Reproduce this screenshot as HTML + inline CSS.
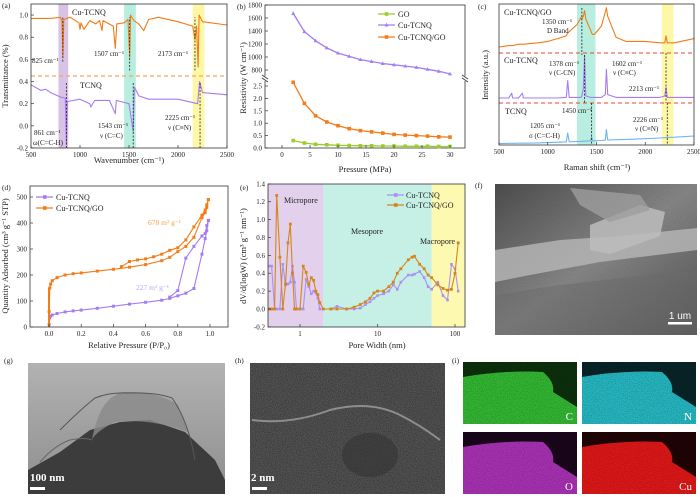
<!DOCTYPE html>
<html><head><meta charset="utf-8"><style>
body{margin:0;background:#fff}
svg{display:block;font-family:"Liberation Serif",serif}
</style></head><body>
<svg id="fig" width="700" height="497" viewBox="0 0 700 497" xmlns="http://www.w3.org/2000/svg">
<defs>
<filter id="noise" x="0" y="0" width="100%" height="100%"><feTurbulence type="fractalNoise" baseFrequency="0.9" numOctaves="2" seed="3"/><feColorMatrix type="saturate" values="0"/><feComponentTransfer><feFuncA type="linear" slope="0.5"/></feComponentTransfer><feBlend in2="SourceGraphic" mode="multiply"/></filter>
<filter id="noise2" x="0" y="0" width="100%" height="100%"><feTurbulence type="fractalNoise" baseFrequency="1.2" numOctaves="1" seed="7"/><feColorMatrix type="matrix" values="0 0 0 0 0  0 0 0 0 0  0 0 0 0 0  0 0 0 1.3 -0.3"/><feComposite in2="SourceGraphic" operator="in"/><feBlend in2="SourceGraphic" mode="normal"/></filter>
<filter id="speck" x="0" y="0" width="100%" height="100%"><feTurbulence type="fractalNoise" baseFrequency="1.5" numOctaves="1" seed="11"/><feColorMatrix type="matrix" values="0 0 0 0 0  0 0 0 0 0  0 0 0 0 0  0 0 0 2 -0.9"/></filter>
<linearGradient id="gSEM" x1="0" y1="0" x2="1" y2="1"><stop offset="0" stop-color="#505050"/><stop offset="0.5" stop-color="#8a8a8a"/><stop offset="1" stop-color="#555"/></linearGradient>
<linearGradient id="gTEMbg" x1="0" y1="0" x2="0" y2="1"><stop offset="0" stop-color="#b2b2b2"/><stop offset="1" stop-color="#8e8e8e"/></linearGradient>
</defs>
<g id="root"></g>
</svg>
<script>
const NS="http://www.w3.org/2000/svg";
const root=document.getElementById('root');
function mk(tag,attrs,parent,txt){const e=document.createElementNS(NS,tag);for(const k in attrs)e.setAttribute(k,attrs[k]);if(txt!==undefined)e.textContent=txt;(parent||root).appendChild(e);return e;}

// ---------- DATA ----------
const aCuW=[500,700,800,815,825,835,900,990,1000,1010,1040,1100,1160,1200,1225,1235,1340,1360,1375,1450,1490,1507,1515,1550,1600,1650,1700,1800,2000,2150,2173,2190,2205,2215,2250,2500];
const aCuT=[.97,.97,.98,.95,.62,.96,.98,.93,.87,.93,.87,.95,.92,.95,.86,.95,.9,.7,.92,.93,.96,.62,1.0,.95,.92,.86,.96,.98,.94,.9,.78,.9,.53,1.0,.94,.91];
const aTW=[500,600,650,700,800,850,861,870,1000,1100,1110,1150,1300,1360,1370,1500,1543,1555,1600,1700,2000,2200,2220,2250,2500];
const aTT=[.37,.32,.33,.3,.26,.25,-.17,.22,.24,.2,.17,.23,.23,.11,.23,.2,-.05,.35,.27,.24,.24,.2,.4,.3,.28];
const aYTicks=[-0.2,0.0,0.2,0.4,0.6,0.8,1.0];
const aXTicks=[500,1000,1500,2000,2500];
const bP=[2,4,6,8,10,12,14,16,18,20,22,24,26,28,30];
const bGO=[.3,.2,.15,.13,.11,.1,.09,.09,.08,.08,.07,.07,.07,.06,.06];
const bCu=[1670,1390,1250,1140,1060,1010,960,930,900,880,860,840,810,780,740];
const bCuGO=[2.65,1.8,1.3,1.05,.9,.78,.7,.65,.6,.55,.52,.5,.48,.45,.44];
const bXTicks=[0,5,10,15,20,25,30];
const bUpTicks=[800,1000,1200,1400,1600,1800];
const bLoTicks=[0.0,0.5,1.0,1.5,2.0,2.5];
const cW=[500,600,630,640,700,740,750,900,1000,1100,1190,1205,1220,1300,1340,1350,1365,1378,1390,1440,1450,1460,1480,1550,1590,1602,1615,1700,1800,2000,2150,2200,2213,2226,2240,2300,2500];
const cGO=[70,71,71,71,72,72,72,73,74,76,78,80,81,86,91,90,92,96,90,82,80,79,79,85,95,98,92,77,74,74,73,73,78,73,73,73,76];
const cCu=[33.6,33.6,37,33.6,33.6,37,33.6,33.6,33.6,33.6,34,46,34,34,34,35,40,64,35,34,34,34,34,34,36,54,36,34,34,34,34,35,41,34,34,34,34];
const cT=[1,1.2,1.2,1.2,1.3,1.3,1.3,1.5,1.7,2,2.2,8.6,2.3,2.5,2.6,2.6,2.7,2.7,2.8,3,6,3,3,3.2,3.5,11,3.6,3.8,4,4.5,5,5.2,5.3,5.3,5.4,5.6,6.4];
const cXTicks=[500,1000,1500,2000,2500];
const dP=[.001,.005,.01,.02,.05,.1,.15,.2,.3,.4,.5,.6,.7,.75,.8,.85,.9,.95,.97,.98,.99];
const dCuAds=[10,35,42,46,52,58,62,65,72,80,88,95,103,110,120,130,148,280,340,370,410];
const dDesP=[.99,.98,.97,.95,.9,.85,.8,.75];
const dCuDes=[410,390,360,350,310,265,140,115];
const dGOAds=[60,150,165,178,190,200,205,208,215,222,230,240,255,268,290,310,345,420,440,460,490];
const dGODesP=[.99,.98,.97,.95,.9,.85,.8,.75,.7,.65,.6,.55,.5,.45];
const dGODes=[490,470,450,430,385,335,305,295,280,270,262,258,252,232];
const dXTicks=[0.0,0.2,0.4,0.6,0.8,1.0];
const dYTicks=[0,100,200,300,400,500];
const eW=[0.4,0.43,0.47,0.5,0.55,0.6,0.65,0.7,0.75,0.8,0.85,0.9,1.0,1.1,1.2,1.3,1.4,1.5,1.6,1.7,1.8,2.0,2.5,3,4,5,6,7,8,9,10,12,14,16,18,20,25,28,30,35,40,45,50,60,70,80,90,100,110];
const eCu=[.48,.48,0,0,0,.5,.27,.28,.3,.48,.3,0,0,0,.33,.25,.17,.2,.18,.12,0,0,0,.03,0,0,.01,.05,.08,.12,.15,.17,.2,.27,.22,.3,.38,.38,.39,.42,.35,.25,.22,.3,.15,.1,.5,.45,.2];
const eGO=[0,0,0,1.27,.58,0,.28,.74,.95,.4,0,0,0,.48,.41,.27,.35,.32,.2,.16,.07,0,0,0,0,.02,.05,.08,.12,.18,.2,.2,.25,.3,.4,.45,.55,.58,.59,.5,.45,.38,.35,.27,.23,.21,.22,.4,.74];
const eYTicks=[-0.2,0,0.2,0.4,0.6,0.8,1.0,1.2,1.4];
const eXTicks=[1,10,100];

const OR='#f47b16',PU='#a57cf4',GR='#9ccc2a',BL='#6eb5ef',EOR='#d4861c',EPU='#ab90ef';

function line(xs,ys,fx,fy,col,g,name,w){const pts=xs.map((x,i)=>fx(x).toFixed(1)+','+fy(ys[i]).toFixed(1)).join(' ');const p=mk('polyline',{points:pts,fill:'none',stroke:col,'stroke-width':w||1.1,'stroke-linejoin':'round'},g);return p;}
function marks(xs,ys,fx,fy,col,g,shape,name,r){xs.forEach((x,i)=>{const cx=fx(x),cy=fy(ys[i]);r=r||1.8;let m;if(shape==='tri')m=mk('polygon',{points:`${cx},${cy-r*1.2} ${cx-r*1.1},${cy+r*.8} ${cx+r*1.1},${cy+r*.8}`,fill:col},g);else m=mk('rect',{x:cx-r,y:cy-r,width:2*r,height:2*r,fill:col},g);});}
function txt(x,y,s,opt,g,name){const t=mk('text',Object.assign({x:x,y:y,'font-size':8,fill:'#222'},opt||{}),g,s);return t;}
function frame(x0,y0,x1,y1,g,name){const r=mk('rect',{x:x0,y:y0,width:x1-x0,height:y1-y0,fill:'none',stroke:'#333','stroke-width':0.8},g);}
function grp(name){const g=mk('g',{});return g;}

// (a)
(function(){const g=grp('panel-a-ftir');
const X0=31,X1=227,Y0=4,Y1=148;
const fx=w=>X0+(w-500)/2000*(X1-X0), fy=v=>Y1-(v+0.2)*110.8;
[[780,880,'#d8c2e6'],[1450,1570,'#b8eedf'],[2150,2270,'#fdf7a8']].forEach(b=>{mk('rect',{x:fx(b[0]),y:Y0,width:fx(b[1])-fx(b[0]),height:Y1-Y0,fill:b[2]},g);});
mk('line',{x1:X0,x2:X1,y1:fy(0.45),y2:fy(0.45),stroke:'#f5a85a','stroke-width':1.2,'stroke-dasharray':'4,3'},g);
line(aCuW,aCuT,fx,fy,OR,g,'cu-tcnq-ftir-line');
line(aTW,aTT,fx,fy,PU,g,'tcnq-ftir-line');
[[825,0.58,0.98],[1507,0.5,0.98],[2173,0.5,0.98],[861,-0.2,0.4],[1543,-0.2,0.4],[2225,-0.2,0.4]].forEach(d=>mk('line',{x1:fx(d[0]),x2:fx(d[0]),y1:fy(d[1]),y2:fy(d[2]),stroke:'#222','stroke-width':0.8,'stroke-dasharray':'2,1.5'},g));
frame(X0,Y0,X1,Y1,g,'panel-a-frame');
aYTicks.forEach(v=>{mk('line',{x1:X0,x2:X0+3,y1:fy(v),y2:fy(v),stroke:'#333','stroke-width':.7},g);txt(X0-3,fy(v)+2.5,v.toFixed(1),{'text-anchor':'end','font-size':7},g,'y-tick-label');});
aXTicks.forEach(v=>{mk('line',{x1:fx(v),x2:fx(v),y1:Y1,y2:Y1-3,stroke:'#333','stroke-width':.7},g);txt(fx(v),Y1+9,v,{'text-anchor':'middle','font-size':7},g,'x-tick-label');});
txt(129,163,'Wavenumber (cm⁻¹)',{'text-anchor':'middle','font-size':8.5},g,'x-axis-title');
txt(8,76,'Transmittance (%)',{'text-anchor':'middle','font-size':8.5,transform:'rotate(-90 8 76)'},g,'y-axis-title');
txt(2,8,'(a)',{'font-size':7.5},g,'panel-label');
txt(72,15,'Cu-TCNQ',{},g,'series-label');txt(80,88,'TCNQ',{},g,'series-label');
txt(32,63,'825 cm⁻¹',{'font-size':7},g,'peak-label');txt(94,56,'1507 cm⁻¹',{'font-size':7},g,'peak-label');txt(158,56,'2173 cm⁻¹',{'font-size':7},g,'peak-label');
txt(34,135,'861 cm⁻¹',{'font-size':7},g,'peak-label');txt(33,145,'ω(C=C-H)',{'font-size':7},g,'peak-label');
txt(98,128,'1543 cm⁻¹',{'font-size':7},g,'peak-label');txt(100,138,'ν (C=C)',{'font-size':7},g,'peak-label');
txt(165,120,'2225 cm⁻¹',{'font-size':7},g,'peak-label');txt(168,130,'ν (C≡N)',{'font-size':7},g,'peak-label');
})();

// (b)
(function(){const g=grp('panel-b-resistivity');
const X0=265,X1=465,Y0=5,Y1=148;
const fx=p=>282+p/30*(450-282);
const fyU=v=>70-(v-800)*0.065, fyL=v=>Y1-v*24.8;
const br=78;
frame(X0,Y0,X1,Y1,g,'panel-b-frame');
mk('rect',{x:X0-3,y:br-2,width:206,height:5,fill:'#fff'},g);
mk('line',{x1:X0-3,x2:X0+3,y1:br-3,y2:br+1,stroke:'#333','stroke-width':.8},g);mk('line',{x1:X0-3,x2:X0+3,y1:br,y2:br+4,stroke:'#333','stroke-width':.8},g);
mk('line',{x1:X1-3,x2:X1+3,y1:br-3,y2:br+1,stroke:'#333','stroke-width':.8},g);mk('line',{x1:X1-3,x2:X1+3,y1:br,y2:br+4,stroke:'#333','stroke-width':.8},g);
line(bP,bGO,fx,fyL,GR,g,'go-line',1.3);marks(bP,bGO,fx,fyL,GR,g,'sq','go-marker');
line(bP,bCu,fx,fyU,PU,g,'cu-tcnq-line',1.3);marks(bP,bCu,fx,fyU,PU,g,'tri','cu-tcnq-marker');
line(bP,bCuGO,fx,fyL,OR,g,'cu-tcnq-go-line',1.3);marks(bP,bCuGO,fx,fyL,OR,g,'sq','cu-tcnq-go-marker');
bUpTicks.forEach(v=>{mk('line',{x1:X0,x2:X0+3,y1:fyU(v),y2:fyU(v),stroke:'#333','stroke-width':.7},g);txt(X0-3,fyU(v)+2.5,v,{'text-anchor':'end','font-size':7},g,'y-tick-label');});
bLoTicks.forEach(v=>{mk('line',{x1:X0,x2:X0+3,y1:fyL(v),y2:fyL(v),stroke:'#333','stroke-width':.7},g);txt(X0-3,fyL(v)+2.5,v.toFixed(1),{'text-anchor':'end','font-size':7},g,'y-tick-label');});
bXTicks.forEach(v=>{mk('line',{x1:fx(v),x2:fx(v),y1:Y1,y2:Y1-3,stroke:'#333','stroke-width':.7},g);txt(fx(v),Y1+9,v,{'text-anchor':'middle','font-size':7},g,'x-tick-label');});
txt(365,172,'Pressure (MPa)',{'text-anchor':'middle','font-size':8.5},g,'x-axis-title');
txt(246,78,'Resistivity (W cm⁻¹)',{'text-anchor':'middle','font-size':8.5,transform:'rotate(-90 246 78)'},g,'y-axis-title');
txt(237,9,'(b)',{'font-size':7.5},g,'panel-label');
[['GO',GR,'sq',14],['Cu-TCNQ',PU,'tri',25],['Cu-TCNQ/GO',OR,'sq',37]].forEach(l=>{const lg=grp('legend-entry');mk('line',{x1:378,x2:395,y1:l[3],y2:l[3],stroke:l[1],'stroke-width':1.3},lg);marks([0],[0],()=>386.5,()=>l[3],l[1],lg,l[2],'legend-marker');txt(398,l[3]+3,l[0],{},lg,'legend-label');});
})();

// (c)
(function(){const g=grp('panel-c-raman');
const X0=499,X1=694,Y0=4,Y1=145;
const fx=w=>X0+(w-500)/2000*(X1-X0), fy=v=>Y1-v*1.4;
[[1300,1490,'#b8eedf'],[2170,2290,'#fdf7a8']].forEach(b=>mk('rect',{x:fx(b[0]),y:Y0,width:fx(b[1])-fx(b[0]),height:Y1-Y0,fill:b[2]},g));
[53,103].forEach(y=>mk('line',{x1:X0,x2:X1,y1:y,y2:y,stroke:'#e8443a','stroke-width':1,'stroke-dasharray':'4,3'},g));
line(cW,cGO,fx,fy,OR,g,'cu-tcnq-go-raman-line');line(cW,cCu,fx,fy,PU,g,'cu-tcnq-raman-line');line(cW,cT,fx,fy,BL,g,'tcnq-raman-line');
[[1350,8,55],[1378,55,103],[1450,103,145],[2213,53,103],[2226,103,145]].forEach(d=>mk('line',{x1:fx(d[0]),x2:fx(d[0]),y1:d[1],y2:d[2],stroke:'#222','stroke-width':.8,'stroke-dasharray':'2,1.5'},g));
frame(X0,Y0,X1,Y1,g,'panel-c-frame');
cXTicks.forEach(v=>{mk('line',{x1:fx(v),x2:fx(v),y1:Y1,y2:Y1-3,stroke:'#333','stroke-width':.7},g);txt(fx(v),Y1+9,v,{'text-anchor':'middle','font-size':7},g,'x-tick-label');});
txt(597,170,'Raman shift (cm⁻¹)',{'text-anchor':'middle','font-size':8.5},g,'x-axis-title');
txt(488,75,'Intensity (a.u.)',{'text-anchor':'middle','font-size':8.5,transform:'rotate(-90 488 75)'},g,'y-axis-title');
txt(478,9,'(c)',{'font-size':7.5},g,'panel-label');
txt(504,15,'Cu-TCNQ/GO',{},g,'series-label');txt(542,24,'1350 cm⁻¹',{'font-size':7},g,'peak-label');txt(547,33,'D Band',{'font-size':7},g,'peak-label');
txt(504,63,'Cu-TCNQ',{},g,'series-label');txt(549,66,'1378 cm⁻¹',{'font-size':7},g,'peak-label');txt(549,75,'ν (C-CN)',{'font-size':7},g,'peak-label');
txt(612,66,'1602 cm⁻¹',{'font-size':7},g,'peak-label');txt(613,75,'ν (C≡C)',{'font-size':7},g,'peak-label');txt(629,91,'2213 cm⁻¹',{'font-size':7},g,'peak-label');
txt(505,114,'TCNQ',{},g,'series-label');txt(562,113,'1450 cm⁻¹',{'font-size':7},g,'peak-label');
txt(530,128,'1205 cm⁻¹',{'font-size':7},g,'peak-label');txt(529,138,'σ (C=C-H)',{'font-size':7},g,'peak-label');
txt(633,122,'2226 cm⁻¹',{'font-size':7},g,'peak-label');txt(635,131,'ν (C≡N)',{'font-size':7},g,'peak-label');
})();

// (d)
(function(){const g=grp('panel-d-isotherm');
const X0=30,X1=228,Y0=186,Y1=327;
const fx=p=>49+p*(210-49), fy=v=>Y1-v*0.26;
line(dP,dCuAds,fx,fy,PU,g,'cu-tcnq-adsorption-line');marks(dP,dCuAds,fx,fy,PU,g,'sq','cu-tcnq-marker',1.5);
line(dDesP,dCuDes,fx,fy,PU,g,'cu-tcnq-desorption-line');marks(dDesP,dCuDes,fx,fy,PU,g,'sq','cu-tcnq-marker',1.5);
line(dP,dGOAds,fx,fy,OR,g,'cu-tcnq-go-adsorption-line');marks(dP,dGOAds,fx,fy,OR,g,'sq','cu-tcnq-go-marker',1.5);
line(dGODesP,dGODes,fx,fy,OR,g,'cu-tcnq-go-desorption-line');marks(dGODesP,dGODes,fx,fy,OR,g,'sq','cu-tcnq-go-marker',1.5);
mk('line',{x1:fx(0),x2:fx(0),y1:fy(0),y2:fy(150),stroke:OR,'stroke-width':2},g);
frame(X0,Y0,X1,Y1,g,'panel-d-frame');
dYTicks.forEach(v=>{mk('line',{x1:X0,x2:X0+3,y1:fy(v),y2:fy(v),stroke:'#333','stroke-width':.7},g);txt(X0-3,fy(v)+2.5,v,{'text-anchor':'end','font-size':7},g,'y-tick-label');});
dXTicks.forEach(v=>{mk('line',{x1:fx(v),x2:fx(v),y1:Y1,y2:Y1-3,stroke:'#333','stroke-width':.7},g);txt(fx(v),Y1+9,v.toFixed(1),{'text-anchor':'middle','font-size':7},g,'x-tick-label');});
txt(129,348,'Relative Pressure (P/P₀)',{'text-anchor':'middle','font-size':8.5},g,'x-axis-title');
txt(8,256,'Quantity Adsorbed (cm³ g⁻¹ STP)',{'text-anchor':'middle','font-size':8.5,transform:'rotate(-90 8 256)'},g,'y-axis-title');
txt(2,190,'(d)',{'font-size':7.5},g,'panel-label');
[['Cu-TCNQ',PU,197],['Cu-TCNQ/GO',OR,208]].forEach(l=>{const lg=grp('legend-entry');mk('line',{x1:36,x2:53,y1:l[2],y2:l[2],stroke:l[1],'stroke-width':1.3},lg);mk('rect',{x:43,y:l[2]-1.8,width:3.6,height:3.6,fill:l[1]},lg);txt(56,l[2]+3,l[0],{},lg,'legend-label');});
txt(148,225,'678 m² g⁻¹',{fill:'#f4a04a','font-size':7.5},g,'surface-area-label');
txt(136,290,'227 m² g⁻¹',{fill:'#c4a4f4','font-size':7.5},g,'surface-area-label');
})();

// (e)
(function(){const g=grp('panel-e-pore');
const X0=268,X1=465,Y0=184,Y1=327;
const fx=w=>300+Math.log10(w)*77.5, fy=v=>309-v*89.4;
[[X0,fx(2),'#e3d0ec'],[fx(2),fx(50),'#c6f0e6'],[fx(50),X1,'#fdf9b0']].forEach(b=>mk('rect',{x:b[0],y:Y0,width:b[1]-b[0],height:Y1-Y0,fill:b[2]},g));
const cl=mk('clipPath',{id:'eclip'},g);mk('rect',{x:X0,y:Y0,width:X1-X0,height:Y1-Y0},cl);
const inner=mk('g',{'clip-path':'url(#eclip)'},g);
line(eW,eCu,fx,fy,EPU,inner,'cu-tcnq-pore-line');marks(eW,eCu,fx,fy,EPU,inner,'sq','cu-tcnq-marker',1.3);
line(eW,eGO,fx,fy,EOR,inner,'cu-tcnq-go-pore-line');marks(eW,eGO,fx,fy,EOR,inner,'sq','cu-tcnq-go-marker',1.4);
frame(X0,Y0,X1,Y1,g,'panel-e-frame');
eYTicks.forEach(v=>{mk('line',{x1:X0,x2:X0+3,y1:fy(v),y2:fy(v),stroke:'#333','stroke-width':.7},g);txt(X0-3,fy(v)+2.5,v.toFixed(1),{'text-anchor':'end','font-size':7},g,'y-tick-label');});
eXTicks.forEach(v=>{mk('line',{x1:fx(v),x2:fx(v),y1:Y1,y2:Y1-3,stroke:'#333','stroke-width':.7},g);txt(fx(v),Y1+9,v,{'text-anchor':'middle','font-size':7},g,'x-tick-label');});
txt(377,348,'Pore Width (nm)',{'text-anchor':'middle','font-size':8.5},g,'x-axis-title');
txt(246,256,'dV/d(logW) (cm³ g⁻¹ nm⁻¹)',{'text-anchor':'middle','font-size':8.5,transform:'rotate(-90 246 256)'},g,'y-axis-title');
txt(240,190,'(e)',{'font-size':7.5},g,'panel-label');
txt(284,203,'Micropore',{},g,'region-label');txt(351,234,'Mesopore',{},g,'region-label');txt(420,244,'Macropore',{},g,'region-label');
[['Cu-TCNQ',EPU,195],['Cu-TCNQ/GO',EOR,205]].forEach(l=>{const lg=grp('legend-entry');mk('line',{x1:387,x2:404,y1:l[2],y2:l[2],stroke:l[1],'stroke-width':1.3},lg);mk('rect',{x:394,y:l[2]-1.8,width:3.6,height:3.6,fill:l[1]},lg);txt(406,l[2]+3,l[0],{},lg,'legend-label');});
})();

// (f) SEM
(function(){const g=grp('panel-f-sem');
txt(475,188,'(f)',{'font-size':7.5},g,'panel-label');
mk('rect',{x:495,y:184,width:202,height:151,fill:'url(#gSEM)',filter:'url(#noise)'},g);
mk('path',{d:'M495 250 L560 240 L620 236 L697 228 L697 250 L600 262 L530 275 L495 282Z',fill:'#b8b8b8',opacity:.8},g);
mk('path',{d:'M590 225 L640 205 L665 212 L660 236 L610 254 L590 250Z',fill:'#bcbcbc',opacity:.85},g);
mk('path',{d:'M570 188 L640 195 L650 210 L610 222 L580 205Z',fill:'#9e9e9e',opacity:.8},g);
mk('path',{d:'M495 295 L560 285 L697 270 L697 335 L495 335Z',fill:'#6a6a6a',opacity:.5},g);
mk('rect',{x:668,y:322,width:24,height:2.5,fill:'#fff'},g);
txt(680,319,'1 um',{'text-anchor':'middle','font-size':10,fill:'#fff','font-family':'Liberation Sans'},g,'scale-bar-label');
})();

// (g) TEM
(function(){const g=grp('panel-g-tem');
txt(4,363,'(g)',{'font-size':7.5},g,'panel-label');
mk('rect',{x:28,y:363,width:197,height:131,fill:'url(#gTEMbg)'},g);
mk('path',{d:'M28 470 L60 452 L90 430 L120 422 L150 420 L185 432 L215 460 L225 480 L225 494 L28 494Z',fill:'#3c3c3c'},g);
mk('path',{d:'M92 440 Q100 395 125 392 Q160 392 178 405 L188 432 Q150 418 115 422 Q95 432 92 440Z',fill:'#8a8a8a',opacity:.8},g);
mk('path',{d:'M60 430 Q80 410 95 398 Q110 392 128 393 Q155 392 172 398 Q188 420 195 460',fill:'none',stroke:'#555','stroke-width':1},g);
mk('path',{d:'M40 462 Q55 445 70 440 Q85 437 92 440',fill:'none',stroke:'#666','stroke-width':1},g);
mk('rect',{x:30,y:487,width:15,height:3,fill:'#fff'},g);
txt(30,481,'100 nm',{'font-size':11,'font-weight':'bold',fill:'#fff'},g,'scale-bar-label');
})();

// (h) HRTEM
(function(){const g=grp('panel-h-hrtem');
txt(235,363,'(h)',{'font-size':7.5},g,'panel-label');
mk('rect',{x:250,y:363,width:195,height:131,fill:'#5b5b5b',filter:'url(#noise2)'},g);
mk('path',{d:'M252 420 Q290 425 330 410 Q370 400 400 415 Q420 425 440 440',fill:'none',stroke:'#bbb','stroke-width':2,opacity:.6},g);
mk('ellipse',{cx:370,cy:455,rx:28,ry:22,fill:'#303030',opacity:.5},g);
mk('rect',{x:252,y:487,width:15,height:3,fill:'#fff'},g);
txt(251,481,'2 nm',{'font-size':11,'font-weight':'bold',fill:'#fff'},g,'scale-bar-label');
})();

// (i) EDS maps
(function(){const g=grp('panel-i-eds');
txt(452,363,'(i)',{'font-size':7.5},g,'panel-label');
const tiles=[[463,362,'#33b833','#0c300c','C'],[582,362,'#26b8c2','#082428','N'],[463,432,'#a932b4','#1a061c','O'],[582,432,'#e01818','#200404','Cu']];
tiles.forEach(t=>{const tg=grp('eds-map-'+t[4].toLowerCase());
mk('rect',{x:t[0],y:t[1],width:114,height:62,fill:t[3]},tg);
mk('path',{d:`M${t[0]} ${t[1]+15} Q${t[0]+40} ${t[1]+8} ${t[0]+80} ${t[1]+10} Q${t[0]+92} ${t[1]+20} ${t[0]+90} ${t[1]+30} L${t[0]+114} ${t[1]+45} L${t[0]+114} ${t[1]+62} L${t[0]} ${t[1]+62}Z`,fill:t[2]},tg);
mk('rect',{x:t[0],y:t[1],width:114,height:62,filter:'url(#speck)',opacity:.5},tg);
txt(t[0]+110,t[1]+58,t[4],{'text-anchor':'end','font-size':11,fill:'#fff'},tg,'element-label');});
mk('rect',{x:466,y:413,width:20,height:3,fill:'#fff'},g);
txt(465,410,'200 nm',{'font-size':9,'font-weight':'bold',fill:'#fff'},g,'scale-bar-label');
})();
</script>
</body></html>
